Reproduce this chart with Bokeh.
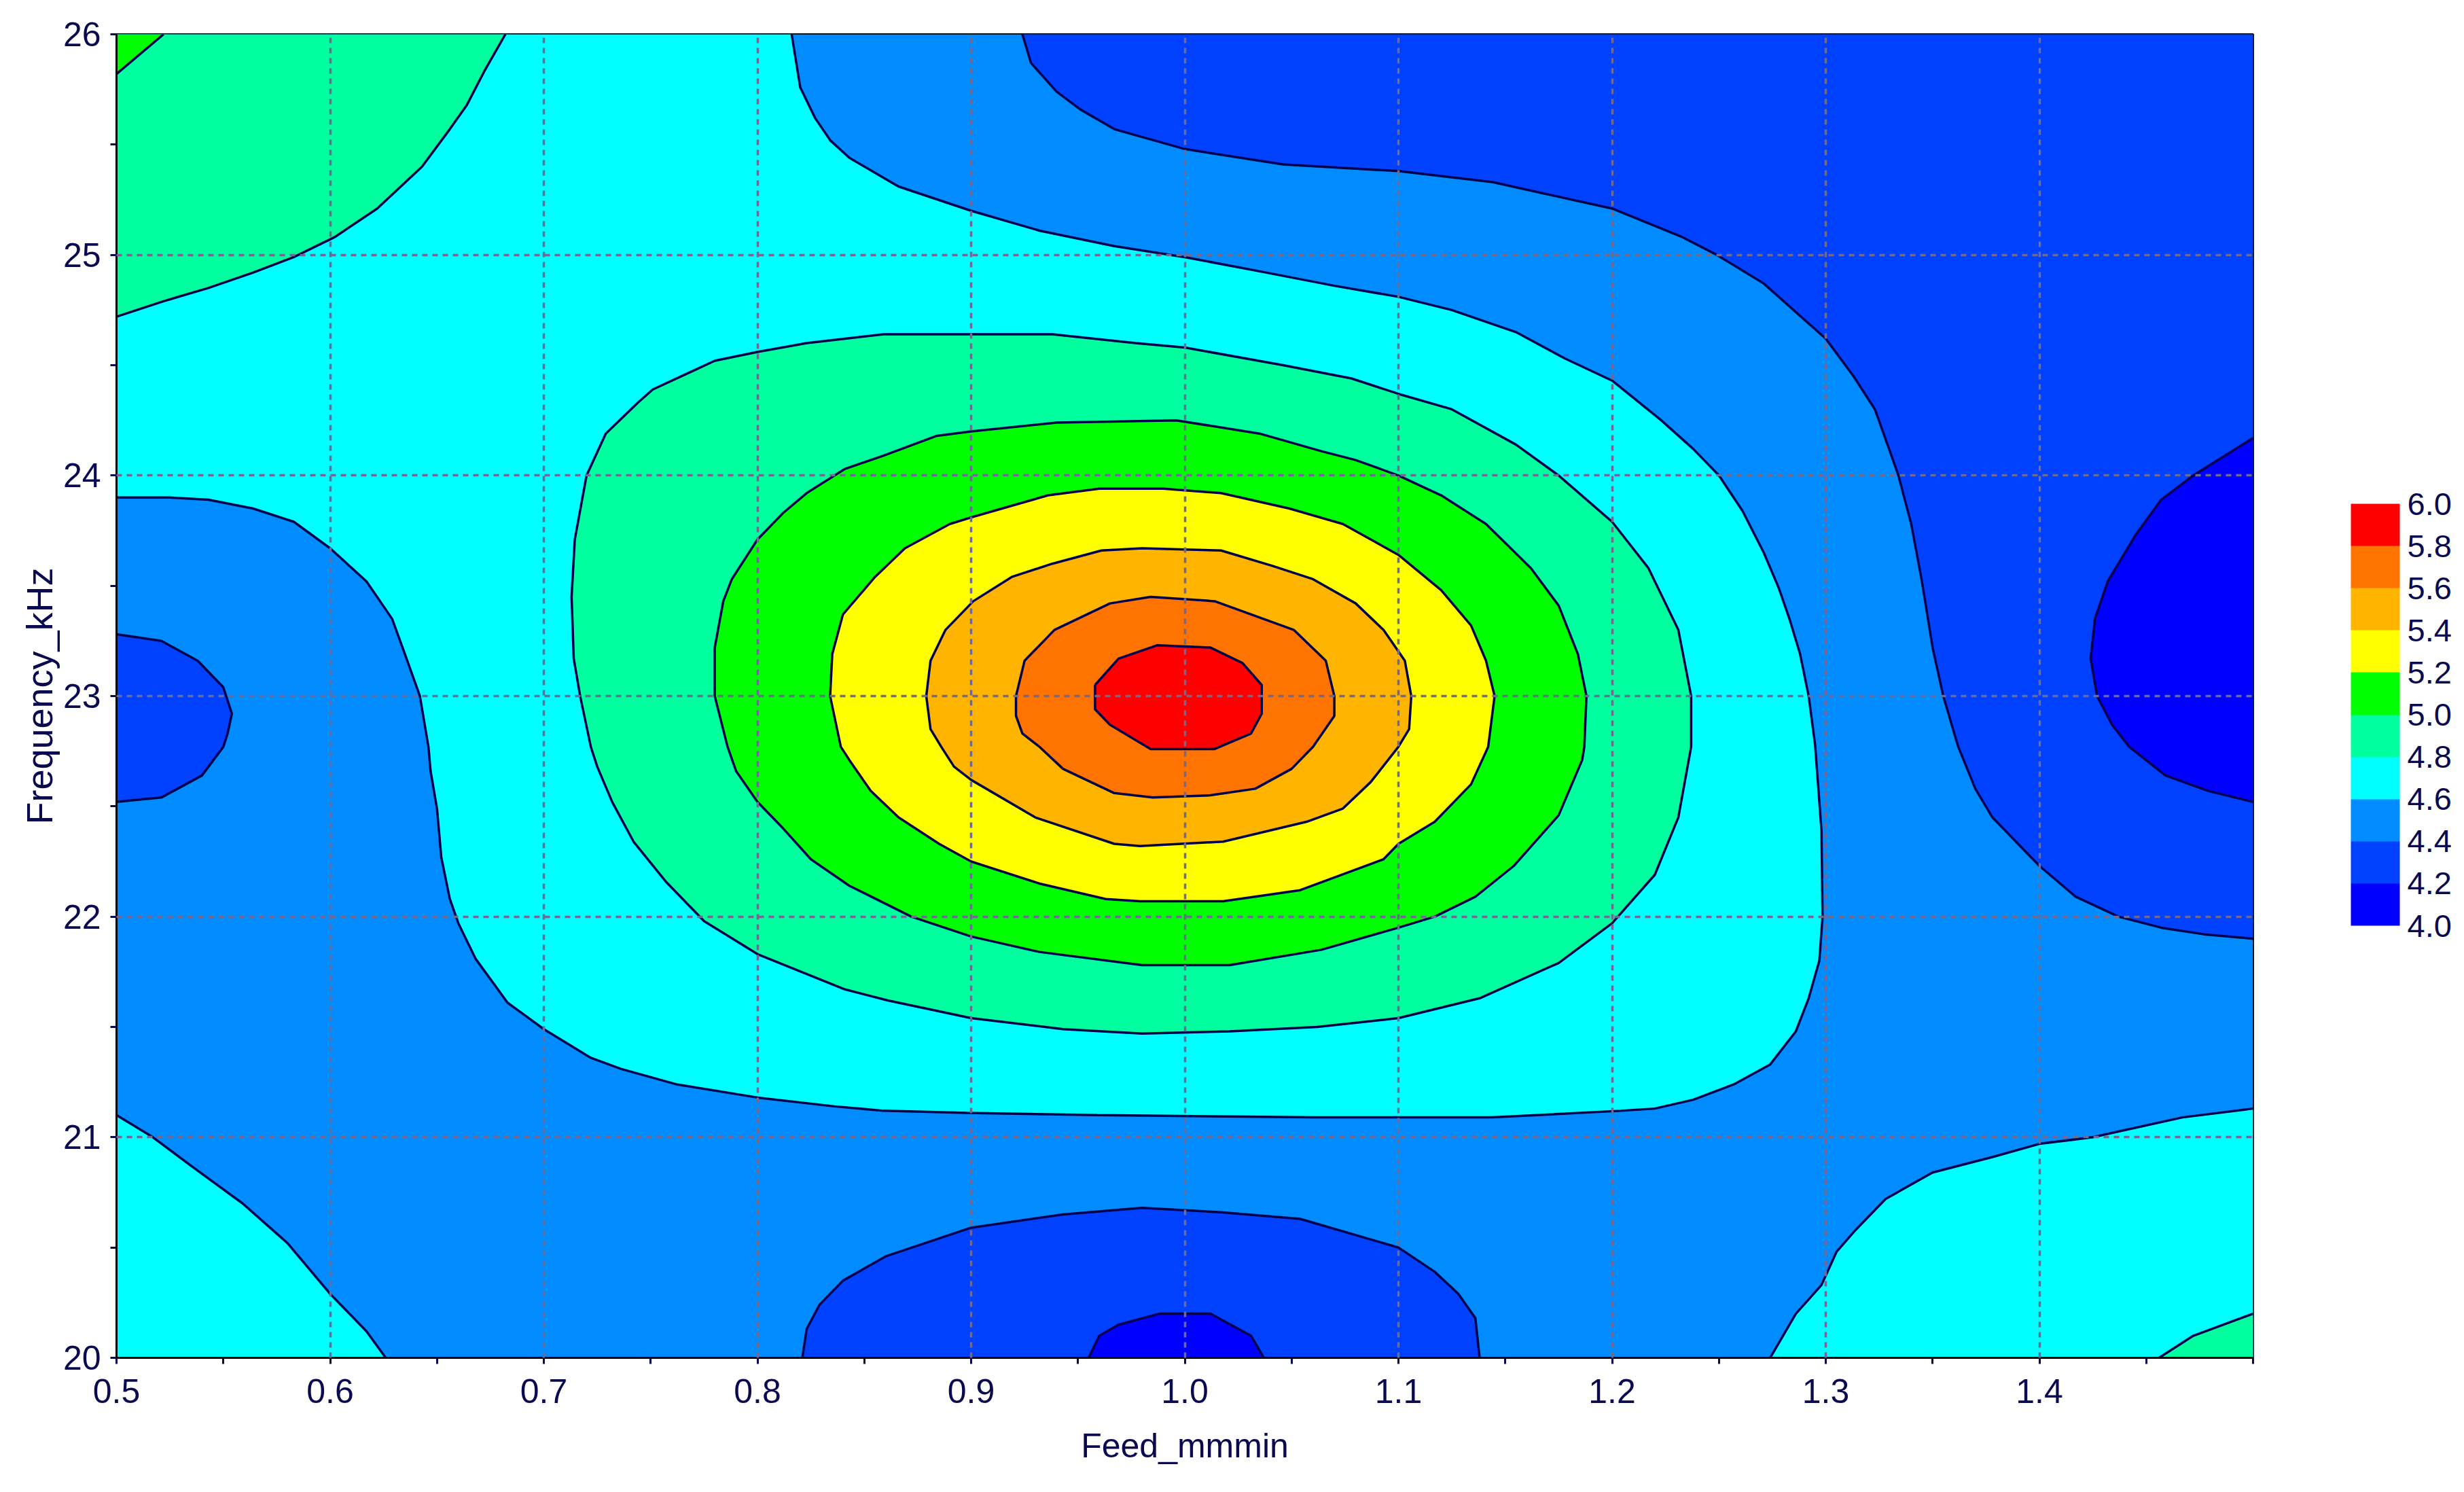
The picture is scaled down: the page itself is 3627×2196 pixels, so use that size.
from bokeh.embed import file_html
from bokeh.models import ColorBar, FixedTicker, LinearColorMapper, PrintfTickFormatter, Range1d
from bokeh.plotting import figure
from bokeh.resources import INLINE

x_start, x_end = 0.5, 1.5
y_start, y_end = 20, 26

x_ticks = [0.5, 0.6, 0.7, 0.8, 0.9, 1.0, 1.1, 1.2, 1.3, 1.4, 1.5]
x_minor = [0.55, 0.65, 0.75, 0.85, 0.95, 1.05, 1.15, 1.25, 1.35, 1.45]
y_ticks = [20, 21, 22, 23, 24, 25, 26]
y_minor = [20.5, 21.5, 22.5, 23.5, 24.5, 25.5]

levels = [4.0, 4.2, 4.4, 4.6, 4.8, 5.0, 5.2, 5.4, 5.6, 5.8, 6.0]
palette = ["#0000ff", "#0040ff", "#008cff", "#00ffff", "#00ff9f",
           "#00ff00", "#ffff00", "#ffb400", "#ff7300", "#ff0000"]

# contour lines, (feed, frequency)
top_left_52 = [(0.5, 25.82), (0.522, 26)]
top_left_50 = [(0.5, 24.72), (0.522, 24.79), (0.543, 24.85), (0.564, 24.92), (0.583, 24.99),
               (0.602, 25.08), (0.622, 25.21), (0.643, 25.40), (0.656, 25.57), (0.664, 25.68),
               (0.672, 25.83), (0.682, 26)]
middle_48 = [(0.816, 26), (0.820, 25.76), (0.827, 25.62), (0.834, 25.52), (0.843, 25.44), (0.866, 25.31), (0.9, 25.20),
             (0.932, 25.11), (0.967, 25.04), (1.0, 24.99), (1.038, 24.92), (1.070, 24.86), (1.1, 24.81),
             (1.125, 24.75), (1.155, 24.65), (1.178, 24.53), (1.2, 24.43), (1.223, 24.25), (1.238, 24.12),
             (1.25, 24.0), (1.261, 23.84), (1.271, 23.65), (1.278, 23.49), (1.283, 23.35), (1.288, 23.19),
             (1.292, 23.0), (1.295, 22.78), (1.298, 22.39), (1.2985, 22.0), (1.297, 21.80), (1.292, 21.63),
             (1.286, 21.48), (1.274, 21.33), (1.257, 21.24), (1.238, 21.17), (1.22, 21.13), (1.204, 21.12),
             (1.144, 21.09), (1.06, 21.09), (0.959, 21.10), (0.898, 21.11), (0.859, 21.12), (0.836, 21.14),
             (0.8, 21.18), (0.762, 21.24), (0.736, 21.31), (0.722, 21.36), (0.7, 21.49), (0.683, 21.61),
             (0.668, 21.81), (0.660, 21.97), (0.656, 22.08), (0.652, 22.27), (0.650, 22.49), (0.647, 22.66),
             (0.646, 22.77), (0.642, 23.0), (0.635, 23.19), (0.629, 23.35), (0.617, 23.52), (0.6, 23.67),
             (0.583, 23.79), (0.564, 23.85), (0.543, 23.89), (0.525, 23.90), (0.5, 23.90)]
bottom_left_48 = [(0.5, 21.10), (0.517, 21.0), (0.535, 20.87), (0.559, 20.70), (0.58, 20.52),
                  (0.6, 20.29), (0.617, 20.12), (0.626, 20)]
bottom_right_48 = [(1.274, 20), (1.286, 20.20), (1.298, 20.33), (1.305, 20.48), (1.314, 20.58),
                   (1.328, 20.72), (1.35, 20.84), (1.378, 20.91), (1.4, 20.97), (1.425, 21.0),
                   (1.467, 21.09), (1.5, 21.13)]
bottom_right_50 = [(1.456, 20), (1.472, 20.10), (1.5, 20.20)]
upper_right_44 = [(0.924, 26), (0.928, 25.87), (0.940, 25.74), (0.951, 25.66), (0.967, 25.57), (1.0, 25.48), (1.046, 25.41),
                  (1.1, 25.38), (1.144, 25.33), (1.2, 25.21), (1.233, 25.08), (1.249, 25.0), (1.271, 24.87),
                  (1.293, 24.68), (1.3, 24.62), (1.313, 24.45), (1.323, 24.30), (1.33, 24.11), (1.334, 24.0),
                  (1.34, 23.78), (1.345, 23.52), (1.35, 23.22), (1.355, 23.0), (1.362, 22.77), (1.37, 22.58),
                  (1.378, 22.45), (1.4, 22.23), (1.417, 22.09), (1.437, 22.0), (1.457, 21.95), (1.477, 21.92),
                  (1.5, 21.90)]
right_42 = [(1.5, 24.17), (1.472, 24.0), (1.457, 23.89), (1.445, 23.73), (1.432, 23.52), (1.426, 23.35),
            (1.424, 23.17), (1.427, 23.0), (1.434, 22.87), (1.442, 22.77), (1.459, 22.64), (1.479, 22.57),
            (1.5, 22.52)]
left_44 = [(0.5, 23.28), (0.521, 23.25), (0.538, 23.16), (0.55, 23.04), (0.554, 22.92), (0.552, 22.83),
           (0.55, 22.77), (0.54, 22.64), (0.521, 22.54), (0.5, 22.52)]
bottom_44 = [(0.821, 20), (0.823, 20.13), (0.829, 20.24), (0.84, 20.35), (0.86, 20.46), (0.9, 20.59),
             (0.943, 20.65), (0.98, 20.68), (1.017, 20.66), (1.054, 20.63), (1.1, 20.50), (1.117, 20.39),
             (1.128, 20.29), (1.136, 20.18), (1.138, 20)]
bottom_42 = [(0.955, 20), (0.96, 20.10), (0.969, 20.15), (0.988, 20.20), (1.012, 20.20), (1.031, 20.10),
             (1.037, 20)]
center_50 = [(0.717, 23.0), (0.714, 23.17), (0.713, 23.45), (0.7145, 23.71), (0.72, 24.0), (0.729, 24.19),
             (0.744, 24.33), (0.751, 24.39), (0.78, 24.52), (0.8, 24.56), (0.823, 24.60), (0.841, 24.62),
             (0.859, 24.64), (0.9, 24.64), (0.938, 24.64), (0.977, 24.60), (1.0, 24.58), (1.046, 24.50),
             (1.078, 24.44), (1.1, 24.37), (1.125, 24.30), (1.155, 24.14), (1.175, 24.0), (1.2, 23.79), (1.217, 23.58),
             (1.231, 23.30), (1.237, 23.0), (1.237, 22.77), (1.231, 22.45), (1.22, 22.19), (1.2, 21.97),
             (1.175, 21.79), (1.138, 21.63), (1.1, 21.54), (1.062, 21.50), (1.021, 21.48), (0.98, 21.47),
             (0.943, 21.49), (0.9, 21.54), (0.861, 21.62), (0.841, 21.67), (0.8, 21.83), (0.775, 21.98),
             (0.757, 22.16), (0.742, 22.34), (0.732, 22.52), (0.725, 22.68), (0.722, 22.77), (0.717, 23.0)]
center_52 = [(0.78, 23.0), (0.78, 23.22), (0.784, 23.43), (0.788, 23.53), (0.8, 23.71), (0.812, 23.83),
             (0.823, 23.92), (0.841, 24.03), (0.859, 24.09), (0.884, 24.18), (0.9, 24.2), (0.94, 24.24),
             (0.996, 24.25), (1.035, 24.19), (1.064, 24.11), (1.08, 24.07), (1.1, 24.0), (1.12, 23.91), (1.141, 23.78), (1.162, 23.58),
             (1.175, 23.41), (1.184, 23.19), (1.188, 23.0), (1.187, 22.77), (1.186, 22.71), (1.175, 22.46),
             (1.154, 22.23), (1.136, 22.09), (1.117, 22.0), (1.1, 21.95), (1.064, 21.85), (1.021, 21.78),
             (0.98, 21.78), (0.932, 21.84), (0.9, 21.91), (0.872, 22.0), (0.843, 22.14), (0.825, 22.26),
             (0.812, 22.40), (0.8, 22.52), (0.79, 22.66), (0.786, 22.77), (0.78, 23.0)]
center_54 = [(0.834, 23.0), (0.835, 23.19), (0.84, 23.37), (0.855, 23.54), (0.869, 23.67), (0.89, 23.78),
             (0.9, 23.81), (0.936, 23.91), (0.96, 23.94), (0.99, 23.94), (1.017, 23.92), (1.049, 23.85), (1.074, 23.78),
             (1.1, 23.64), (1.12, 23.48), (1.134, 23.32), (1.141, 23.16), (1.145, 23.0), (1.142, 22.77),
             (1.134, 22.6), (1.117, 22.43), (1.1, 22.33), (1.093, 22.26), (1.054, 22.12), (1.018, 22.07),
             (0.979, 22.07), (0.963, 22.08), (0.932, 22.15), (0.9, 22.25), (0.885, 22.33), (0.866, 22.45),
             (0.853, 22.57), (0.843, 22.71), (0.839, 22.77), (0.834, 23.0)]
center_56 = [(0.879, 23.0), (0.881, 23.16), (0.888, 23.30), (0.901, 23.43), (0.919, 23.54), (0.938, 23.60),
             (0.961, 23.66), (0.98, 23.67), (1.017, 23.66), (1.041, 23.59), (1.06, 23.53), (1.08, 23.42),
             (1.093, 23.30), (1.103, 23.16), (1.106, 23.0), (1.105, 22.85), (1.1, 22.77), (1.087, 22.61),
             (1.074, 22.49), (1.057, 22.43), (1.018, 22.34), (0.979, 22.32), (0.967, 22.33), (0.93, 22.45),
             (0.9, 22.62), (0.892, 22.68), (0.886, 22.77), (0.881, 22.85), (0.879, 23.0)]
center_58 = [(0.921, 23.0), (0.925, 23.16), (0.939, 23.30), (0.965, 23.42), (0.984, 23.45), (1.014, 23.43),
             (1.051, 23.30), (1.066, 23.16), (1.07, 23.0), (1.07, 22.91), (1.06, 22.77), (1.05, 22.67),
             (1.033, 22.58), (1.012, 22.55), (0.985, 22.54), (0.967, 22.56), (0.943, 22.67), (0.932, 22.77),
             (0.924, 22.83), (0.921, 22.91), (0.921, 23.0)]
center_60 = [(0.958, 23.05), (0.969, 23.17), (0.987, 23.23), (1.012, 23.22), (1.027, 23.15), (1.036, 23.05),
             (1.036, 22.92), (1.031, 22.83), (1.014, 22.76), (0.984, 22.76), (0.965, 22.87), (0.958, 22.94),
             (0.958, 23.05)]

contour_color = "#00004a"
text_color = "#0a0a50"

p = figure(
    width=3611,
    height=2180,
    frame_width=3145,
    frame_height=1948,
    min_border_left=171,
    min_border_right=295,
    min_border_top=50,
    min_border_bottom=182,
    x_range=Range1d(x_start, x_end),
    y_range=Range1d(y_start, y_end),
    output_backend="svg",
    toolbar_location=None,
)


def region(edge, closing, color):
    # fill the area between a contour line and the corners that close it, then draw the line
    pts = edge + closing
    p.patch([q[0] for q in pts], [q[1] for q in pts], fill_color=color, line_color=None)
    p.line([q[0] for q in edge], [q[1] for q in edge], line_color=contour_color, line_width=3.5)


# base band, then the higher or lower bands painted over it
p.patch([x_start, x_end, x_end, x_start], [y_start, y_start, y_end, y_end], fill_color=palette[2], line_color=None)

region(middle_48, [(x_start, y_end)], palette[3])
region(bottom_left_48, [(x_start, y_start)], palette[3])
region(bottom_right_48, [(x_end, y_start)], palette[3])
region(bottom_right_50, [(x_end, y_start)], palette[4])
region(top_left_50, [(x_start, y_end)], palette[4])
region(top_left_52, [(x_start, y_end)], palette[5])

region(upper_right_44, [(x_end, y_end)], palette[1])
region(right_42, [], palette[0])
region(left_44, [], palette[1])
region(bottom_44, [], palette[1])
region(bottom_42, [], palette[0])

region(center_50, [], palette[4])
region(center_52, [], palette[5])
region(center_54, [], palette[6])
region(center_56, [], palette[7])
region(center_58, [], palette[8])
region(center_60, [], palette[9])

# Axes
p.xaxis.ticker = FixedTicker(ticks=x_ticks, minor_ticks=x_minor)
p.yaxis.ticker = FixedTicker(ticks=y_ticks, minor_ticks=y_minor)
p.xaxis.major_label_overrides = {0.5: "0.5", 1.0: "1.0", 1.5: ""}
p.xaxis.axis_label = "Feed_mmmin"
p.yaxis.axis_label = "Frequency_kHz"

for ax in [p.xaxis[0], p.yaxis[0]]:
    ax.axis_line_color = "black"
    ax.axis_line_width = 3
    ax.major_tick_line_color = text_color
    ax.minor_tick_line_color = text_color
    ax.major_tick_line_width = 3
    ax.minor_tick_line_width = 3
    ax.major_tick_in = 0
    ax.major_tick_out = 9
    ax.minor_tick_in = 0
    ax.minor_tick_out = 9
    ax.major_label_text_font = "Liberation Sans"
    ax.major_label_text_font_size = "50px"
    ax.major_label_text_color = text_color
    ax.axis_label_text_font = "Liberation Sans"
    ax.axis_label_text_font_size = "50px"
    ax.axis_label_text_font_style = "normal"
    ax.axis_label_text_color = text_color

p.yaxis.axis_label_text_font_size = "54px"
p.xaxis.major_label_standoff = 22
p.xaxis.axis_label_standoff = 32
p.yaxis.major_label_standoff = 14
p.yaxis.axis_label_standoff = 2

# Grid sits on top of the filled bands
p.xgrid.ticker = FixedTicker(ticks=x_ticks[1:-1])
p.ygrid.ticker = FixedTicker(ticks=y_ticks[1:-1])
p.grid.level = "overlay"
p.grid.grid_line_color = "#6f6a94"
p.grid.grid_line_width = 3.5
p.grid.grid_line_dash = "8 7"

p.outline_line_color = "black"
p.outline_line_width = 3

# Legend
mapper = LinearColorMapper(palette=palette, low=levels[0], high=levels[-1])
bar = ColorBar(
    color_mapper=mapper,
    ticker=FixedTicker(ticks=levels),
    formatter=PrintfTickFormatter(format="%.1f"),
    width=72,
    height=621,
    location=(144, 636),
    padding=0,
    margin=0,
    major_label_text_font="Liberation Sans",
    major_label_text_font_size="47px",
    major_label_text_color=text_color,
    major_tick_line_color=None,
    minor_tick_line_color=None,
    bar_line_color=None,
    border_line_color=None,
    background_fill_color=None,
    label_standoff=11,
)
p.add_layout(bar, "right")

open("out.html", "w").write(file_html(p, INLINE))
